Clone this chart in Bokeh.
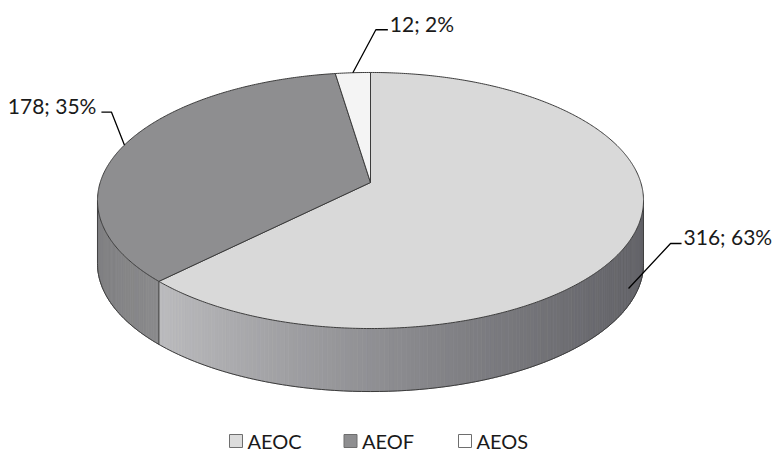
import math
from bokeh.plotting import figure
from bokeh.models import Range1d
from bokeh.core.properties import value
from bokeh.embed import file_html
from bokeh.resources import INLINE

# ---- data ----
categories = ["AEOC", "AEOF", "AEOS"]
values = [316, 178, 12]
labels = ["316; 63%", "178; 35%", "12; 2%"]

# ---- style / layout ----
top_colors = ["#d9d9d9", "#8e8e90", "#f4f4f4"]
legend_colors = ["#dcdcdc", "#8e8e90", "#ffffff"]
CX, CY = 370.0, 182.0        # projected pie centre
A, B, K = 270.3, 125.5, 0.1406  # perspective projection params
DEPTH = 63.0
EDGE = "#3c3c3c"
FONT = "Lato"
# leader elbow offsets (dx, dy) and horizontal run for each label
leader_elbow = [(42, -45), (-13, -33), (23, -43)]
leader_run = [11, -10, 12]
label_mid_dy = -6.5

W, H = 774, 453
p = figure(width=W, height=H, output_backend="svg", toolbar_location=None,
           x_range=Range1d(0, W), y_range=Range1d(H, 0),
           min_border=0)
p.axis.visible = False
p.grid.visible = False
p.outline_line_color = None
p.background_fill_color = "white"
p.border_fill_color = "white"


def proj(theta_deg, drop=0.0):
    t = math.radians(theta_deg)
    s, c = math.sin(t), math.cos(t)
    w = 1.0 + K * c
    return CX + A * s / w, CY - B * c / w + drop


total = float(sum(values))
starts, ends = [], []
acc = 0.0
for v in values:
    starts.append(acc / total * 360.0)
    acc += v
    ends.append(acc / total * 360.0)

sil_l = math.degrees(math.acos(-K))          # right silhouette (~98 deg)
sil_r = 360.0 - sil_l                         # left silhouette (~262 deg)
x_left = proj(sil_r)[0]
x_right = proj(sil_l)[0]


def side_color(i, xm):
    if i == 0:
        t = max(0.0, min(1.0, (xm - x_left) / (x_right - x_left))) ** 0.8
        lo, hi = (206, 206, 208), (98, 98, 103)
    else:
        t = max(0.0, min(1.0, (xm - x_left) / 70.0))
        lo, hi = (128, 128, 130), (140, 140, 142)
    r, g, b = [int(round(lo[k] + (hi[k] - lo[k]) * t)) for k in range(3)]
    return "#%02x%02x%02x" % (r, g, b)


# ---- side faces (strips for gradient) ----
sx, sy, sc = [], [], []
for i in range(len(values)):
    a0 = max(starts[i], sil_l)
    a1 = min(ends[i], sil_r)
    if a1 <= a0:
        continue
    n = max(2, int((a1 - a0) / 0.8))
    for j in range(n):
        t0 = a0 + (a1 - a0) * j / n
        t1 = a0 + (a1 - a0) * (j + 1) / n
        x0, y0 = proj(t0)
        x1, y1 = proj(t1)
        sx.append([x0, x1, x1, x0])
        sy.append([y0, y1, y1 + DEPTH, y0 + DEPTH])
        sc.append(side_color(i, (x0 + x1) / 2))
p.patches(sx, sy, fill_color=sc, line_color=sc, line_width=0.8)

# side outlines: bottom rim, silhouettes, slice boundaries on the side
nb = 200
bx, by = [], []
for j in range(nb + 1):
    x, y = proj(sil_l + (sil_r - sil_l) * j / nb, DEPTH)
    bx.append(x)
    by.append(y)
p.line(bx, by, line_color=EDGE, line_width=1)
for ang in [sil_l, sil_r] + [e for e in ends[:-1] if sil_l < e < sil_r]:
    x0, y0 = proj(ang)
    p.line([x0, x0], [y0, y0 + DEPTH], line_color=EDGE, line_width=0.9)

# ---- top faces ----
tx, ty = [], []
for i in range(len(values)):
    n = max(4, int((ends[i] - starts[i]) / 0.5))
    xs, ys = [CX], [CY]
    for j in range(n + 1):
        x, y = proj(starts[i] + (ends[i] - starts[i]) * j / n)
        xs.append(x)
        ys.append(y)
    tx.append(xs)
    ty.append(ys)
p.patches(tx, ty, fill_color=top_colors, line_color=EDGE, line_width=1,
          line_join="round")

# ---- data labels with leader lines ----
for i in range(len(values)):
    mid = (starts[i] + ends[i]) / 2
    ax, ay = proj(mid)
    if sil_l < mid < sil_r:
        ax, ay = ax - 6, ay + 0.88 * DEPTH
    ex, ey = ax + leader_elbow[i][0], ay + leader_elbow[i][1]
    hx = ex + leader_run[i]
    p.line([ax, ex, hx], [ay, ey, ey], line_color="#000000", line_width=1.3)
    right = leader_run[i] > 0
    p.text(x=[hx + (2 if right else -5)], y=[ey + label_mid_dy],
           text=[labels[i]], text_font=value(FONT), text_font_size="21px",
           text_color="#1a1a1a", text_align="left" if right else "right",
           text_baseline="middle")

# ---- legend ----
LEG_X0, LEG_DX, LEG_MID = 229, 114.5, 440.5
SQ = 13
for i, cat in enumerate(categories):
    x0 = LEG_X0 + LEG_DX * i
    p.quad(left=[x0], right=[x0 + SQ], top=[LEG_MID - SQ / 2],
           bottom=[LEG_MID + SQ / 2],
           fill_color=legend_colors[i], line_color="#6e6e6e", line_width=1)
    p.text(x=[x0 + SQ + 5], y=[LEG_MID], text=[cat],
           text_font=value(FONT), text_font_size="20px", text_color="#1a1a1a",
           text_align="left", text_baseline="middle")

open("out.html", "w").write(file_html(p, INLINE))
